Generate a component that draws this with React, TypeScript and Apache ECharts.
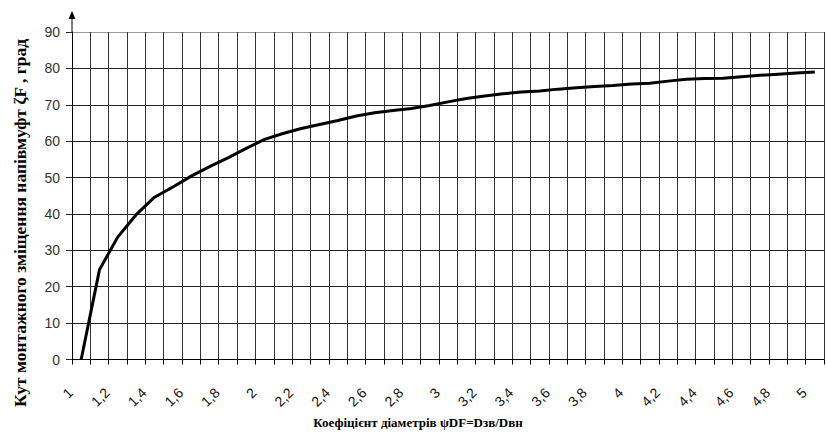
import React, { useEffect, useRef } from "react";
import * as echarts from "echarts";

const categories = [
  "1", "1,1", "1,2", "1,3", "1,4", "1,5", "1,6", "1,7", "1,8", "1,9",
  "2", "2,1", "2,2", "2,3", "2,4", "2,5", "2,6", "2,7", "2,8", "2,9",
  "3", "3,1", "3,2", "3,3", "3,4", "3,5", "3,6", "3,7", "3,8", "3,9",
  "4", "4,1", "4,2", "4,3", "4,4", "4,5", "4,6", "4,7", "4,8", "4,9",
  "5",
];

const angleValues = [
  0, 24.7, 33.7, 39.8, 44.6, 47.4, 50.4, 53, 55.4, 58,
  60.5, 62.1, 63.5, 64.6, 65.7, 66.9, 67.8, 68.4, 69, 69.8,
  70.8, 71.7, 72.4, 73, 73.5, 73.8, 74.3, 74.7, 75, 75.3,
  75.7, 75.9, 76.5, 77, 77.2, 77.3, 77.7, 78.1, 78.4, 78.7,
  79,
];

const yMin = 0;
const yMax = 90;
const yStep = 10;

const xTitle = "Коефіцієнт діаметрів ψDF=Dзв/Dвн";
const yTitle = "Кут монтажного зміщення напівмуфт ζF , град";

export default function App() {
  const ref = useRef<HTMLDivElement>(null);

  useEffect(() => {
    if (!ref.current) return;
    const chart = echarts.init(ref.current, undefined, { renderer: "svg" });
    const gridColors = [];
    for (let v = yMin; v < yMax; v += yStep) gridColors.push("#222");
    gridColors.push("#999");
    chart.setOption({
      animation: false,
      backgroundColor: "#fff",
      grid: { left: 72, right: 3, top: 32, bottom: 76.5, containLabel: false },
      xAxis: {
        type: "category",
        data: categories,
        boundaryGap: true,
        axisLine: { show: true, lineStyle: { color: "#000", width: 1 } },
        axisTick: { show: true, interval: 0, length: 5, lineStyle: { color: "#000" } },
        splitLine: { show: true, interval: 0, lineStyle: { color: "#333", width: 1 } },
        axisLabel: {
          interval: 1,
          rotate: 45,
          margin: 20,
          padding: [0, 15, 0, 0],
          fontFamily: "Liberation Sans",
          fontSize: 14,
          color: "#111",
        },
      },
      yAxis: {
        type: "value",
        min: yMin,
        max: yMax,
        interval: yStep,
        axisLine: { show: true, lineStyle: { color: "#000", width: 1 } },
        axisTick: { show: true, length: 6, lineStyle: { color: "#222" } },
        splitLine: { show: true, lineStyle: { color: gridColors, width: 1 } },
        axisLabel: {
          margin: 12,
          fontFamily: "Liberation Sans",
          fontSize: 14,
          color: "#333",
        },
      },
      series: [
        {
          type: "line",
          data: angleValues,
          showSymbol: false,
          symbol: "none",
          lineStyle: { color: "#000", width: 3 },
        },
      ],
      graphic: [
        {
          type: "line",
          shape: { x1: 72, y1: 32, x2: 72, y2: 16 },
          style: { stroke: "#000", lineWidth: 1 },
        },
        {
          type: "polygon",
          shape: { points: [[72, 11], [68.5, 19], [75.5, 19]] },
          style: { fill: "#000" },
        },
        {
          type: "text",
          x: 418,
          y: 422,
          style: {
            text: xTitle,
            font: "bold 13px 'Liberation Serif'",
            fill: "#000",
            align: "center",
            verticalAlign: "middle",
          },
        },
        {
          type: "text",
          x: 20,
          y: 223,
          rotation: Math.PI / 2,
          style: {
            text: yTitle,
            font: "bold 17.5px 'Liberation Serif'",
            fill: "#000",
            align: "center",
            verticalAlign: "middle",
          },
        },
      ],
    });
    return () => chart.dispose();
  }, []);

  return (
    <div
      ref={ref}
      style={{ position: "absolute", left: 0, top: 0, width: 827, height: 436 }}
    />
  );
}
